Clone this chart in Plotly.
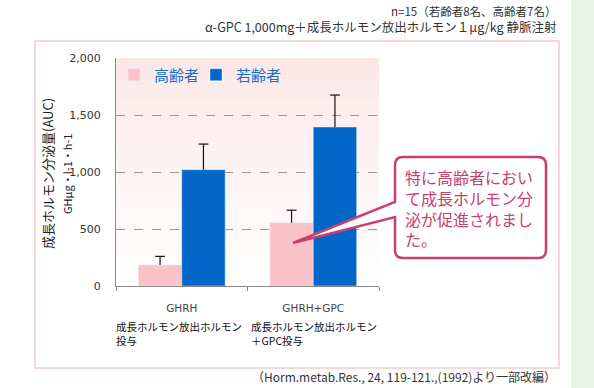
import plotly.graph_objects as go

# ---- data ----
categories = ["GHRH", "GHRH+GPC"]
elderly_values = [185, 555]      # 高齢者
elderly_err = [75, 110]
young_values = [1020, 1395]      # 若齢者
young_err = [225, 280]
series_names = ["高齢者", "若齢者"]
y_ticks = [0, 500, 1000, 1500, 2000]
sub_labels = ["成長ホルモン放出ホルモン<br>投与", "成長ホルモン放出ホルモン<br>＋GPC投与"]

W, H = 594, 388
L, R, T, B = 116, 379, 58, 286   # plot area in pixels

def px(x):
    return (x - L) / (R - L)

def py(y):
    return (B - y) / (B - T)

JP = "Noto Sans CJK JP"
PINK = "#fbc3c7"
BLUE = "#0066c8"
MAG = "#c8406e"

fig = go.Figure()
for name, vals, errs, color, grp, leg in [(series_names[0], elderly_values, elderly_err, PINK, "a", "legend"),
                                           (series_names[1], young_values, young_err, BLUE, "b", "legend2")]:
    # bar with the vertical part of the error bar (no caps)
    fig.add_trace(go.Bar(
        x=categories, y=vals, name=name, marker_color=color, offsetgroup=grp, legend=leg,
        error_y=dict(type="data", array=errs, arrayminus=[0] * len(errs), symmetric=False,
                     color="#111", thickness=1.2, width=0)))
    # top cap of the error bar only
    fig.add_trace(go.Scatter(
        x=categories, y=[v + e for v, e in zip(vals, errs)], mode="markers", offsetgroup=grp,
        marker=dict(symbol="line-ew", size=7, line=dict(color="#111", width=1.2)),
        showlegend=False, hoverinfo="skip"))

shapes = []
# gradient plot background
N = 40
top = (252, 231, 231)
for i in range(N):
    f = (i + 0.5) / N  # 0 bottom -> 1 top
    c = tuple(round(255 + (t - 255) * f) for t in top)
    shapes.append(dict(type="rect", xref="x domain", yref="y domain",
                       x0=0, x1=1, y0=i / N, y1=(i + 1) / N, layer="below",
                       fillcolor="rgb(%d,%d,%d)" % c, line_width=0))
# outer panel border
shapes.append(dict(type="rect", xref="paper", yref="paper",
                   x0=px(35), x1=px(559), y0=py(368), y1=py(41), layer="below",
                   line=dict(color="#f6c9cd", width=1.5), fillcolor="rgba(0,0,0,0)"))
# green strip on the right
shapes.append(dict(type="rect", xref="paper", yref="paper",
                   x0=px(571), x1=px(594), y0=py(388), y1=py(0), layer="below",
                   line_width=0, fillcolor="#eaf5ea"))
# callout box with tail
r = 8
x0b, x1b, y0b, y1b = 395, 546, 157, 258
def P(x, y):
    return "%.5f,%.5f" % (px(x), py(y))
path = ("M" + P(x0b + r, y0b) + " L" + P(x1b - r, y0b) + " Q" + P(x1b, y0b) + " " + P(x1b, y0b + r) +
        " L" + P(x1b, y1b - r) + " Q" + P(x1b, y1b) + " " + P(x1b - r, y1b) +
        " L" + P(x0b + r, y1b) + " Q" + P(x0b, y1b) + " " + P(x0b, y1b - r) +
        " L" + P(x0b, 217) + " L" + P(293, 243) + " L" + P(x0b, 202) +
        " L" + P(x0b, y0b + r) + " Q" + P(x0b, y0b) + " " + P(x0b + r, y0b) + " Z")
shapes.append(dict(type="path", xref="paper", yref="paper", path=path, layer="above",
                   fillcolor="white", line=dict(color=MAG, width=2.5)))

annotations = []
# y-axis titles
annotations.append(dict(text="成長ホルモン分泌量(AUC)", x=px(47), y=py(174), xref="paper", yref="paper",
                        xanchor="center", yanchor="middle",
                        textangle=-90, showarrow=False, font=dict(family=JP, size=13, color="#222")))
annotations.append(dict(text="GHμg・l-1・h-1", x=px(67), y=py(174), xref="paper", yref="paper",
                        xanchor="center", yanchor="middle",
                        textangle=-90, showarrow=False, font=dict(family=JP, size=11, color="#222")))
# sub labels under categories
for xpos, t in zip([114, 249], sub_labels):
    annotations.append(dict(text=t, x=px(xpos), y=py(317), xref="paper", yref="paper",
                            xanchor="left", yanchor="top", align="left", showarrow=False,
                            font=dict(family=JP, size=10.5, color="#111")))
# header notes
annotations.append(dict(text="n=15（若齢者8名、高齢者7名）", x=px(558), y=py(11), xref="paper", yref="paper",
                        xanchor="right", yanchor="middle", showarrow=False,
                        font=dict(family=JP, size=11.5, color="#333")))
annotations.append(dict(text="α-GPC 1,000mg＋成長ホルモン放出ホルモン１μg/kg 静脈注射", x=px(558), y=py(27),
                        xref="paper", yref="paper", xanchor="right", yanchor="middle", showarrow=False,
                        font=dict(family=JP, size=12.5, color="#333")))
annotations.append(dict(text="（Horm.metab.Res., 24, 119-121.,(1992)より一部改編）", x=px(558), y=py(376),
                        xref="paper", yref="paper", xanchor="right", yanchor="middle", showarrow=False,
                        font=dict(family=JP, size=12, color="#333")))
# callout text
annotations.append(dict(text="特に高齢者におい<br>て成長ホルモン分<br>泌が促進されまし<br>た。",
                        x=px(403), y=py(208), xref="paper", yref="paper",
                        xanchor="left", yanchor="middle", align="left", showarrow=False,
                        font=dict(family=JP, size=16, color=MAG)))

legend_style = dict(orientation="h", yanchor="middle", bgcolor="rgba(0,0,0,0)",
                    font=dict(family=JP, size=15, color="#1a6cc4"), itemwidth=30, xanchor="left")

fig.update_layout(
    width=W, height=H,
    margin=dict(l=L, r=W - R, t=T, b=H - B, pad=0),
    paper_bgcolor="white", plot_bgcolor="white",
    barmode="group", bargap=0.34, bargroupgap=0,
    scattermode="group", scattergap=0.34,
    showlegend=True,
    legend=dict(x=px(114), y=py(75), **legend_style),
    legend2=dict(x=px(196), y=py(75), **legend_style),
    shapes=shapes, annotations=annotations,
    xaxis=dict(type="category", showline=True, linecolor="#888", linewidth=1,
               ticks="outside", tickson="boundaries", ticklen=4, tickcolor="#888",
               ticklabelstandoff=12,
               tickfont=dict(family="DejaVu Sans", size=10.5, color="#444"), showgrid=False),
    yaxis=dict(range=[0, 2000], tickvals=y_ticks, tickformat=",d", showline=True, linecolor="#888",
               linewidth=1, ticks="", showgrid=True, gridcolor="#999", griddash="dash", gridwidth=1,
               zeroline=False, ticklabelstandoff=12,
               tickfont=dict(family="DejaVu Sans", size=11, color="#333")),
)

fig.write_html("out.html", config={"displayModeBar": False},
               post_script="document.body.style.margin='0px';")
